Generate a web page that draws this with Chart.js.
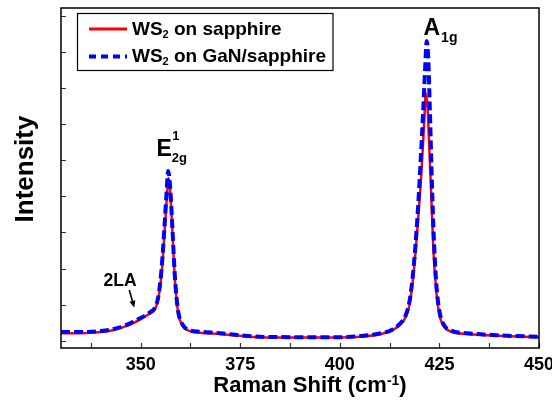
<!DOCTYPE html>
<html><head><meta charset="utf-8">
<script src="https://cdn.jsdelivr.net/npm/chart.js@4/dist/chart.umd.min.js"></script>
<style>html,body{margin:0;padding:0;background:#fff}</style>
</head><body>
<canvas id="c" width="552" height="403"></canvas>
<script>
// ---- data (intensity in axis-tick units) ----
const shiftSapphire = [330,335,340,343,346,348,350,351.5,352.5,353.5,354.3,355,355.5,356,356.5,357,357.5,358,358.5,359,359.5,360.5,362,365,370,375,380,390,400,405,410,413,415,416.5,417.5,418.5,419.5,420.5,421.2,421.6,422,422.5,423,423.5,424.2,425,426,428,432,440,450];
const intensitySapphire = [0.21,0.21,0.24,0.29,0.39,0.48,0.6,0.7,0.76,0.86,1.1,1.6,2.2,3.0,3.85,4.5,4.0,2.95,1.85,1.15,0.72,0.42,0.28,0.22,0.19,0.14,0.1,0.09,0.09,0.11,0.18,0.28,0.43,0.65,1.0,1.85,3.15,4.7,6.1,6.85,6.5,5.25,3.9,2.5,1.4,0.72,0.42,0.25,0.19,0.14,0.1];
const shiftGaN = [330,335,340,343,346,348,350,351.5,352.5,353.5,354.3,355,355.5,356,356.5,356.9,357.4,358,358.5,359,359.5,360.5,362,365,370,375,380,390,400,405,410,413,415,416.5,417.5,418.5,419.5,420.3,420.9,421.4,421.8,422.2,422.6,423,423.5,424.2,425,426,428,432,440,450];
const intensityGaN = [0.24,0.24,0.27,0.32,0.42,0.52,0.63,0.72,0.8,0.9,1.15,1.7,2.35,3.2,4.1,4.7,4.25,3.05,1.95,1.2,0.76,0.45,0.3,0.25,0.21,0.15,0.11,0.1,0.1,0.13,0.2,0.3,0.46,0.7,1.1,2.0,3.45,5.0,6.3,7.5,8.3,7.8,6.4,4.8,3.1,1.6,0.82,0.46,0.28,0.21,0.15,0.11];
const xMajorTicks = [350,375,400,425,450];
const xMinorTicks = [337.5,362.5,387.5,412.5,437.5];
const yTicks = [0,1,2,3,4,5,6,7,8,9];

const FF = '"Liberation Sans", Arial, Helvetica, sans-serif';

function pts(xs, ys){ return xs.map((x,i)=>({x:x, y:ys[i]})); }

const deco = {
  id: 'deco',
  afterDraw(chart){
    const ctx = chart.ctx, a = chart.chartArea, x = chart.scales.x, y = chart.scales.y;
    ctx.save();
    // ticks (inward)
    ctx.strokeStyle = '#333'; ctx.lineWidth = 1.2; ctx.setLineDash([]);
    ctx.beginPath();
    yTicks.forEach(v=>{ const p = Math.round(y.getPixelForValue(v))+0.5; ctx.moveTo(a.left,p); ctx.lineTo(a.left+5,p); });
    xMajorTicks.concat(xMinorTicks).forEach(v=>{ const p = Math.round(x.getPixelForValue(v))+0.5; ctx.moveTo(p,a.bottom); ctx.lineTo(p,a.bottom-5); });
    ctx.stroke();
    // frame
    ctx.strokeStyle = '#000'; ctx.lineWidth = 1.5;
    ctx.strokeRect(a.left, a.top, a.right-a.left, a.bottom-a.top);

    ctx.fillStyle = '#000';
    ctx.textAlign = 'left'; ctx.textBaseline = 'alphabetic';
    const t = (s, px, py, size) => { ctx.font = 'bold ' + size + 'px ' + FF; ctx.fillText(s, px, py); return px + ctx.measureText(s).width; };

    // legend
    ctx.lineWidth = 1.2; ctx.strokeStyle = '#000';
    ctx.strokeRect(77.5, 13.5, 255.5, 57);
    ctx.strokeStyle = '#ff0000'; ctx.lineWidth = 3;
    ctx.beginPath(); ctx.moveTo(89,29); ctx.lineTo(127,29); ctx.stroke();
    ctx.strokeStyle = '#0000ff'; ctx.lineWidth = 4; ctx.setLineDash([7,5]);
    ctx.beginPath(); ctx.moveTo(89,56.5); ctx.lineTo(127,56.5); ctx.stroke();
    ctx.setLineDash([]);
    let px = t('WS', 132, 34.8, 19); px = t('2', px, 37.8, 11); t(' on sapphire', px, 34.8, 19);
    px = t('WS', 132, 62, 19); px = t('2', px, 65, 11); t(' on GaN/sapphire', px, 62, 19);

    // peak labels
    px = t('E', 156.5, 156, 23); t('1', px+0.5, 140, 13); t('2g', px, 161.5, 13);
    px = t('A', 423.5, 34.5, 23); t('1g', px+1, 41.5, 14);
    t('2LA', 103.5, 285.7, 17.5);
    // arrow
    ctx.strokeStyle = '#000'; ctx.lineWidth = 1.6;
    const x0=129.3, y0=290, x1=134.3, y1=307.7;
    const ang = Math.atan2(y1-y0, x1-x0);
    ctx.beginPath(); ctx.moveTo(x0,y0); ctx.lineTo(x1-4*Math.cos(ang), y1-4*Math.sin(ang)); ctx.stroke();
    ctx.beginPath();
    ctx.moveTo(x1,y1);
    ctx.lineTo(x1-7*Math.cos(ang)+3*Math.sin(ang), y1-7*Math.sin(ang)-3*Math.cos(ang));
    ctx.lineTo(x1-7*Math.cos(ang)-3*Math.sin(ang), y1-7*Math.sin(ang)+3*Math.cos(ang));
    ctx.closePath(); ctx.fill();

    // x title
    ctx.font = 'bold 22px ' + FF;
    const w1 = ctx.measureText('Raman Shift (cm').width, w3 = ctx.measureText(')').width;
    ctx.font = 'bold 14px ' + FF;
    const w2 = ctx.measureText('-1').width;
    let sx = 310 - (w1+w2+w3)/2;
    sx = t('Raman Shift (cm', sx, 392, 22); sx = t('-1', sx, 384.5, 14); t(')', sx, 392, 22);

    // y title
    ctx.save();
    ctx.translate(33, 169); ctx.rotate(-Math.PI/2);
    ctx.textAlign = 'center';
    ctx.font = 'bold 26px ' + FF; ctx.fillText('Intensity', 0, 0);
    ctx.restore();
    ctx.restore();
  }
};

new Chart(document.getElementById('c'), {
  type: 'line',
  data: {
    datasets: [
      { label: 'WS2 on sapphire', data: pts(shiftSapphire, intensitySapphire), borderColor: '#ff0000', borderWidth: 2.5, pointRadius: 0, cubicInterpolationMode: 'monotone', fill: false, order: 2 },
      { label: 'WS2 on GaN/sapphire', data: pts(shiftGaN, intensityGaN), borderColor: '#0000ff', borderWidth: 4, borderDash: [9,4], pointRadius: 0, cubicInterpolationMode: 'monotone', fill: false, order: 1 }
    ]
  },
  options: {
    responsive: false, animation: false, devicePixelRatio: 1,
    layout: { padding: { left: 61, right: 13, top: 8, bottom: 0 } },
    plugins: { legend: { display: false }, tooltip: { enabled: false } },
    scales: {
      x: {
        type: 'linear', min: 330, max: 450,
        grid: { display: false, drawTicks: false }, border: { display: false },
        afterBuildTicks: s => { s.ticks = xMajorTicks.map(v => ({ value: v })); },
        afterFit: s => { s.height = 55; s.paddingLeft = 0; s.paddingRight = 0; },
        ticks: { padding: 6, color: '#000', font: { family: FF, size: 18, weight: 'bold' }, maxRotation: 0, autoSkip: false }
      },
      y: { type: 'linear', min: -0.2, max: 9.21, display: false }
    }
  },
  plugins: [deco]
});
</script>
</body></html>
